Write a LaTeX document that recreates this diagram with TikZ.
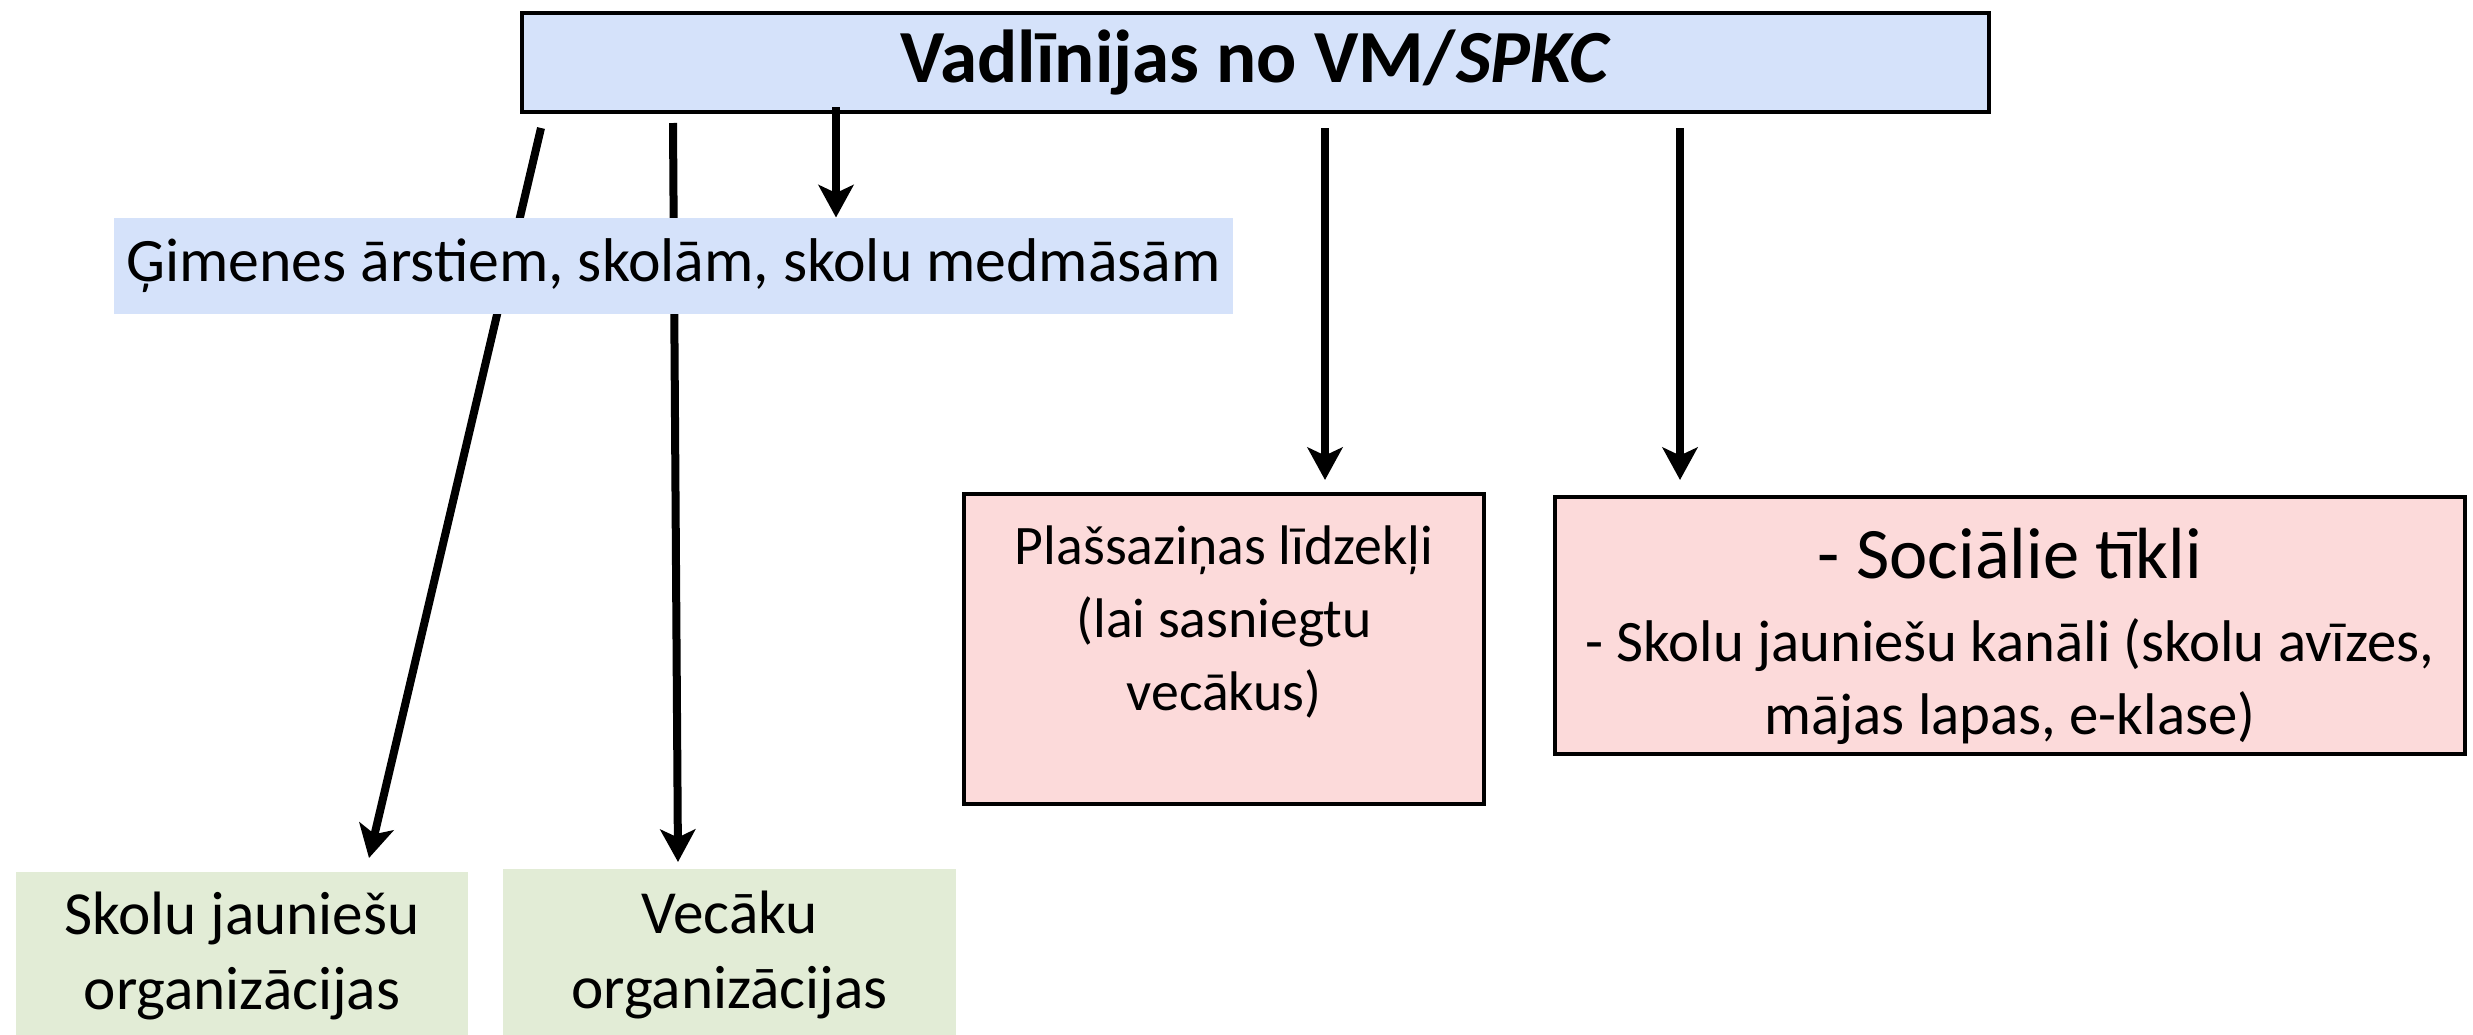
\documentclass[tikz,border=0pt]{standalone}
\usepackage{fontspec}
\setmainfont{Carlito}
\usetikzlibrary{arrows.meta,calc}
\definecolor{hdrblue}{HTML}{D5E2FA}
\definecolor{pinkfill}{HTML}{FCDADA}
\definecolor{greenfill}{HTML}{E2ECD6}
\begin{document}
\begin{tikzpicture}[x=0.4pt,y=-0.4pt,
  arr/.style={line width=3.2pt,-{Stealth[length=13pt,width=14pt,inset=3.2pt]}},
  topbox/.style={draw=black,line width=1.6pt,fill=hdrblue,inner sep=0pt},
  bluebox/.style={fill=hdrblue,inner sep=0pt},
  pinkbox/.style={draw=black,line width=1.6pt,fill=pinkfill,inner sep=0pt},
  greenbox/.style={fill=greenfill,inner sep=0pt,align=center,font=\fontsize{24.5}{30}\selectfont},
  txt/.style={align=center,inner sep=0pt}]
\useasboundingbox (0,0) rectangle (2473,1034);
\fill[white] (0,0) rectangle (2473,1034);
% header
\node[topbox,minimum width=586.8pt,minimum height=39.6pt,font=\fontsize{30}{34}\selectfont\bfseries] (top) at (1255.5,62.5)
  {Vadlīnijas no VM/\textit{SPKC}};
% arrow start/end points
\coordinate (s1) at (541,128);
\coordinate (e1) at (369,858);
\coordinate (s2) at (673,123);
\coordinate (e2) at (678,862);
\coordinate (s3) at (836,107);
\coordinate (s4) at (1325,128);
\coordinate (e4) at (1325,480);
\coordinate (s5) at (1680,128);
\coordinate (e5) at (1680,480);
% long arrows behind the blue label
\draw[arr] (s1) -- (e1);
\draw[arr] (s2) -- (e2);
% blue label
\node[bluebox,minimum width=447.6pt,minimum height=38.4pt,font=\fontsize{24.7}{30}\selectfont] (gim) at (673.5,266)
  {Ģimenes ārstiem, skolām, skolu medmāsām};
\draw[arr] (s3) -- (s3 |- gim.north);
% green boxes
\node[greenbox,minimum width=180.8pt,minimum height=67.2pt] (sjo) at (242,956)
  {Skolu jauniešu\\organizācijas};
\node[greenbox,minimum width=181.2pt,minimum height=68.4pt] (vo) at (729.5,954.5)
  {Vecāku\\organizācijas};
% pink boxes
\node[pinkbox,minimum width=208pt,minimum height=124pt] (plas) at (1224,649) {};
\node[txt,font=\fontsize{22.3}{29.2}\selectfont] (plastxt) at (1224,622)
  {Plašsaziņas līdzekļi\\(lai sasniegtu\\vecākus)};
\node[pinkbox,minimum width=364pt,minimum height=102.8pt,align=center,font=\fontsize{23.5}{29.2}\selectfont] (soc) at (2010,625.5)
  {{\fontsize{29}{33}\selectfont\rule{0pt}{29pt}- Sociālie tīkli}\\[4pt]
   - Skolu jauniešu kanāli (skolu avīzes,\\
   mājas lapas, e-klase)};
\draw[arr] (s4) -- (e4);
\draw[arr] (s5) -- (e5);
\end{tikzpicture}
\end{document}
